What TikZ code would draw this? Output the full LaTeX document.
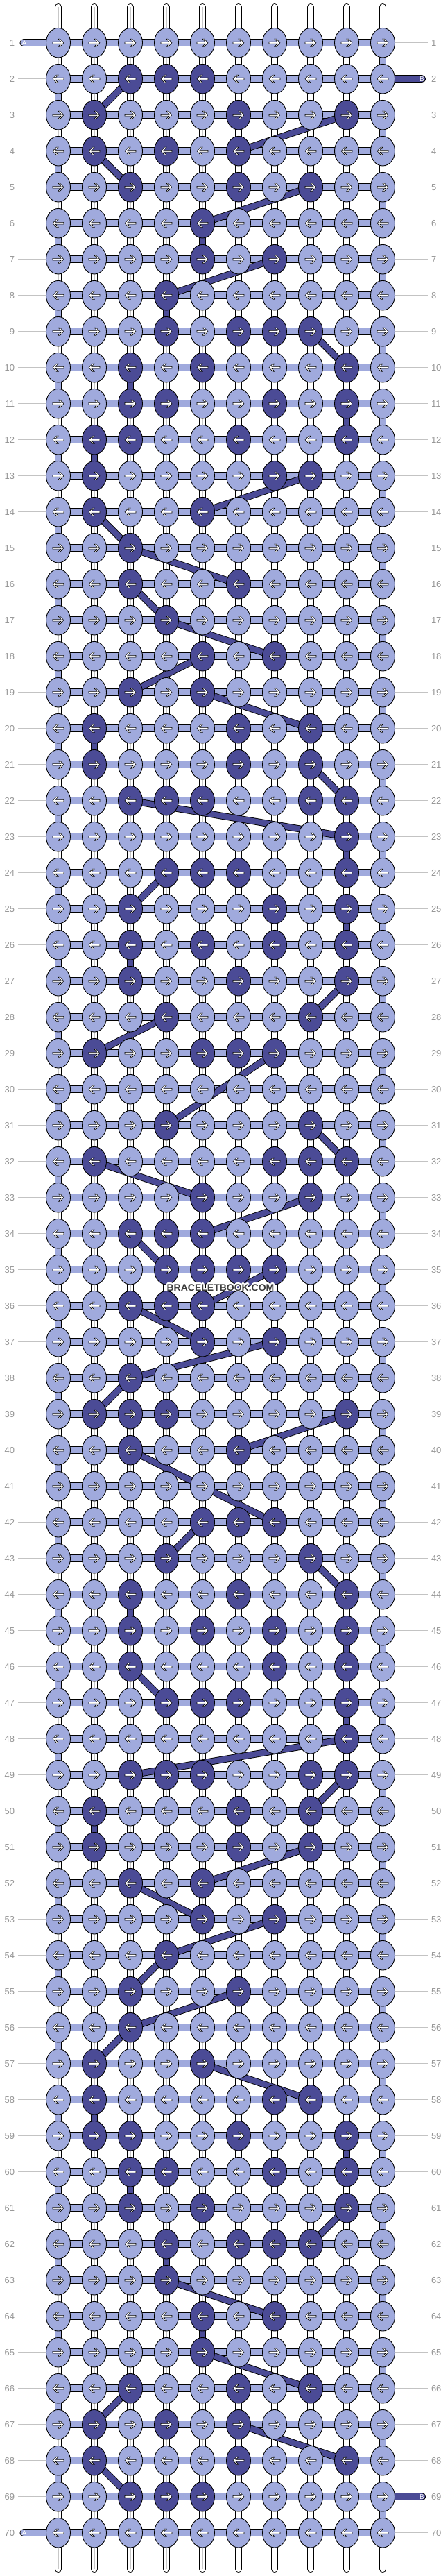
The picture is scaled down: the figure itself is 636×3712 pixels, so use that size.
\documentclass[tikz,border=0pt]{standalone}
\usepackage{fontspec}
\setmainfont{Liberation Sans}
\usepackage{contour}
\contourlength{1.4pt}
\usetikzlibrary{shapes.geometric}
\definecolor{alight}{RGB}{160,170,221}
\definecolor{bdark}{RGB}{75,75,150}
\definecolor{labgray}{RGB}{150,150,150}
\definecolor{linegray}{RGB}{195,195,195}
\definecolor{wmgray}{RGB}{60,60,60}
\pgfdeclarelayer{background}
\pgfsetlayers{background,main}
\tikzset{
  knot/.style={ellipse, draw=black, line width=0.9pt, minimum width=35pt, minimum height=42.6pt, inner sep=0pt, outer sep=0pt},
  basestr/.style={draw=black, line width=0.9pt, double=white, double distance=8.2pt, line cap=round},
  strmid/.style={draw=black!22, line width=0.6pt},
  turnA/.style={draw=black, line width=0.9pt, double=alight, double distance=8.2pt},
  rowbar/.style={draw=black, line width=0.9pt, double=alight, double distance=9.2pt},
  tabB/.style={draw=black, line width=0.9pt, double=bdark, double distance=9.2pt, line cap=round},
  bpath/.style={draw=black, line width=0.9pt, double=bdark, double distance=8.2pt},
  rowlab/.style={font=\fontsize{13}{13}\selectfont, text=labgray, inner sep=0pt, outer sep=5pt},
  labline/.style={draw=linegray, line width=0.8pt},
  tabtxt/.style={font=\fontsize{10}{10}\selectfont, text=white, inner sep=0pt},
  kright/.pic={\draw[fill=white, line width=0.6pt] (8,0) -- (2.6,-5.6) -- (-0.2,-5.6) -- (4,-1.4) -- (-8,-1.4) -- (-8,1.4) -- (4,1.4) -- (-0.2,5.6) -- (2.6,5.6) -- cycle;},
  kleft/.pic={\draw[fill=white, line width=0.6pt] (-8,0) -- (-2.6,-5.6) -- (0.2,-5.6) -- (-4,-1.4) -- (8,-1.4) -- (8,1.4) -- (-4,1.4) -- (0.2,5.6) -- (-2.6,5.6) -- cycle;}
}
\begin{document}
\begin{tikzpicture}[x=1pt,y=-1pt]
\useasboundingbox (0,0) rectangle (636,3712);
% knots tied with string B
\foreach \r/\ds in {2/{3,4,5}, 3/{2,6,9}, 4/{2,4,6}, 5/{3,6,8}, 6/{5}, 7/{5,7}, 8/{4}, 9/{4,6,7,8}, 10/{3,5,9},
  11/{3,4,7,9}, 12/{2,3,6,9}, 13/{2,7,8}, 14/{2,5}, 15/{3}, 16/{3,6}, 17/{4}, 18/{5,7}, 19/{3,5}, 20/{2,6,8},
  21/{2,6,8}, 22/{3,4,5,8,9}, 23/{9}, 24/{4,5,6,9}, 25/{3,7,9}, 26/{3,5,7,9}, 27/{3,6,9}, 28/{4,8}, 29/{2,5,6,7},
  31/{4,8}, 32/{2,7,8,9}, 33/{5,8}, 34/{3,4,5}, 35/{4,5,6,7}, 36/{3,4,5}, 37/{5,7}, 38/{3}, 39/{2,3,4,9}, 40/{3,6},
  42/{5,6,7}, 43/{4,8}, 44/{3,6,9}, 45/{3,5,7,9}, 46/{3,7,9}, 47/{4,5,6,9}, 48/{9}, 49/{3,4,5,8,9}, 50/{2,6,8},
  51/{2,6,8}, 52/{3,5}, 53/{5,7}, 54/{4}, 55/{3,6}, 56/{3}, 57/{2,5}, 58/{2,7,8}, 59/{2,3,6,9}, 60/{3,4,7,9},
  61/{3,5,9}, 62/{4,6,7,8}, 63/{4}, 64/{5,7}, 65/{5}, 66/{3,6,8}, 67/{2,4,6}, 68/{2,6,9}, 69/{3,4,5}}{
  \foreach \c in \ds {\expandafter\gdef\csname dk-\r-\c\endcsname{}}
}
\foreach \r in {1,...,70}{
  \foreach \c in {1,...,10}{
    \ifcsname dk-\r-\c\endcsname\def\kfill{bdark}\else\def\kfill{alight}\fi
    \node[knot, fill=\kfill] (k-\r-\c) at ({84+52*(\c-1)},{61.7+52*(\r-1)}) {};
    \ifodd\r\relax \pic at (k-\r-\c) {kright};\else \pic at (k-\r-\c) {kleft};\fi
  }
  \node[rowlab, anchor=east] (ll-\r) at (26,{61.7+52*(\r-1)}) {\r};
  \node[rowlab, anchor=west] (rl-\r) at (617,{61.7+52*(\r-1)}) {\r};
}
\foreach \r in {2,...,69} \draw[labline] (ll-\r) -- (k-\r-1);
\foreach \r in {1,...,70}{
  \ifnum\r=2 \else\ifnum\r=69 \else \draw[labline] (k-\r-10) -- (rl-\r);\fi\fi
}
\begin{pgfonlayer}{background}
% base strings
\foreach \c in {1,...,10}{
  \coordinate (st-\c) at ({84+52*(\c-1)},10);
  \coordinate (sb-\c) at ({84+52*(\c-1)},3702);
  \draw[basestr] (st-\c) -- (sb-\c);
  \draw[strmid] (st-\c) -- (sb-\c);
}
% string A turning at the sides
\foreach \r in {1,...,69}{
  \pgfmathtruncatemacro\rn{\r+1}
  \ifodd\r\relax \draw[turnA] (k-\r-10.center) -- (k-\rn-10.center);
  \else \draw[turnA] (k-\r-1.center) -- (k-\rn-1.center);\fi
}
\foreach \r in {1,...,70} \draw[rowbar] (k-\r-1.center) -- (k-\r-10.center);
% loose ends
\coordinate (ta-1) at (34,61.7);
\coordinate (ta-70) at (34,3649.7);
\coordinate (tb-2) at (608.5,113.7);
\coordinate (tb-69) at (608.5,3597.7);
\draw[rowbar, line cap=round] (ta-1) -- (k-1-1.center);
\draw[rowbar, line cap=round] (ta-70) -- (k-70-1.center);
\draw[tabB] (k-2-10.center) -- (tb-2);
\draw[tabB] (k-69-10.center) -- (tb-69);
% string B from row to row
\foreach \ra/\ca/\rb/\cb in {2/3/3/2, 3/9/4/6, 4/2/5/3, 5/8/6/5, 6/5/7/5, 7/7/8/4, 8/4/9/4, 9/8/10/9, 10/3/11/3,
  11/9/12/9, 12/2/13/2, 13/8/14/5, 14/2/15/3, 15/3/16/6, 16/3/17/4, 17/4/18/7, 18/5/19/3, 19/5/20/8, 20/2/21/2,
  21/8/22/9, 22/3/23/9, 23/9/24/9, 24/4/25/3, 25/9/26/9, 26/3/27/3, 27/9/28/8, 28/4/29/2, 29/7/31/4, 31/8/32/9,
  32/2/33/5, 33/8/34/5, 34/3/35/4, 35/7/36/5, 36/3/37/5, 37/7/38/3, 38/3/39/2, 39/9/40/6, 40/3/42/7, 42/5/43/4,
  43/8/44/9, 44/3/45/3, 45/9/46/9, 46/3/47/4, 47/9/48/9, 48/9/49/3, 49/9/50/8, 50/2/51/2, 51/8/52/5, 52/3/53/5,
  53/7/54/4, 54/4/55/3, 55/6/56/3, 56/3/57/2, 57/5/58/8, 58/2/59/2, 59/9/60/9, 60/3/61/3, 61/9/62/8, 62/4/63/4,
  63/4/64/7, 64/5/65/5, 65/5/66/8, 66/3/67/2, 67/6/68/9, 68/2/69/3}
  \draw[bpath] (k-\ra-\ca.center) -- (k-\rb-\cb.center);
\end{pgfonlayer}
\node[tabtxt] (la-1) at (35,61.7) {A};
\node[tabtxt] (la-70) at (35,3649.7) {A};
\node[tabtxt] (lb-2) at (608.5,113.7) {B};
\node[tabtxt] (lb-69) at (608.5,3597.7) {B};
\node[font=\bfseries\fontsize{14}{14}\selectfont, text=wmgray, inner sep=0pt] (wm) at (318,1856) {\contour{white}{BRACELETBOOK.COM}};
\end{tikzpicture}
\end{document}
